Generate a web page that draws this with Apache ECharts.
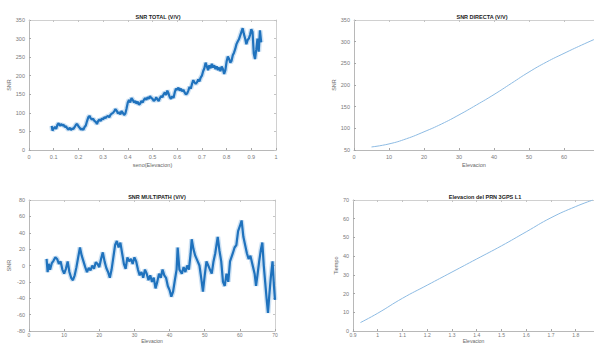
<!DOCTYPE html>
<html><head><meta charset="utf-8">
<script src="https://cdn.jsdelivr.net/npm/echarts@6/dist/echarts.min.js"></script>
<style>html,body{margin:0;padding:0;background:#fff}#c{width:594px;height:343px}</style>
</head><body><div id="c"></div>
<script>
// Titles and axis names
const titles = ['SNR TOTAL (V/V)', 'SNR DIRECTA (V/V)', 'SNR MULTIPATH (V/V)', 'Elevacion del PRN 3GPS L1'];
const xNames = ['seno(Elevacion)', 'Elevacion', 'Elevacion', 'Elevacion'];
const yNames = ['SNR', 'SNR', 'SNR', 'Tiempo'];

// SNR TOTAL vs seno(Elevacion)
const totalX = [0.092,0.095,0.10,0.105,0.11,0.115,0.12,0.125,0.13,0.135,0.14,0.145,0.15,0.155,0.16,0.165,0.17,0.175,0.18,0.185,0.19,0.195,0.20,0.205,0.21,0.215,0.22,0.225,0.23,0.235,0.24,0.245,0.25,0.255,0.26,0.265,0.27,0.275,0.28,0.285,0.29,0.295,0.30,0.305,0.31,0.315,0.32,0.325,0.33,0.335,0.34,0.345,0.35,0.355,0.36,0.365,0.37,0.375,0.38,0.385,0.39,0.395,0.40,0.405,0.41,0.415,0.42,0.425,0.43,0.435,0.44,0.445,0.45,0.455,0.46,0.465,0.47,0.475,0.48,0.485,0.49,0.495,0.50,0.505,0.51,0.515,0.52,0.525,0.53,0.535,0.54,0.545,0.55,0.555,0.56,0.565,0.57,0.575,0.58,0.585,0.59,0.595,0.60,0.605,0.61,0.615,0.62,0.625,0.63,0.635,0.64,0.645,0.65,0.655,0.66,0.665,0.67,0.675,0.68,0.685,0.69,0.695,0.70,0.705,0.71,0.715,0.72,0.725,0.73,0.735,0.74,0.745,0.75,0.755,0.76,0.765,0.77,0.775,0.78,0.785,0.79,0.795,0.80,0.805,0.81,0.815,0.82,0.825,0.83,0.835,0.84,0.845,0.85,0.855,0.86,0.865,0.87,0.875,0.88,0.885,0.89,0.895,0.90,0.905,0.91,0.915,0.92,0.925,0.93,0.935,0.94];
const totalY = [65,52,58,62,57,68,72,65,70,66,68,62,64,58,55,60,54,58,57,62,68,70,64,60,55,58,54,62,66,78,88,92,85,82,84,78,76,70,78,82,78,85,82,88,86,90,92,88,95,98,100,104,110,106,98,102,96,105,100,94,98,112,128,135,128,140,135,128,132,125,130,122,125,132,128,135,140,135,142,138,145,140,138,132,135,142,136,132,140,145,142,150,155,148,160,152,142,138,145,140,155,165,162,168,160,165,158,162,155,150,152,160,170,165,178,188,182,178,182,190,185,195,200,212,220,235,225,215,228,220,232,222,228,218,225,215,222,212,225,218,205,215,238,252,245,235,240,255,262,272,285,292,298,308,318,328,312,300,285,296,300,310,325,318,260,245,270,300,265,322,290];

// SNR DIRECTA vs Elevacion
const directX = [5,10,15,20,25,30,35,40,45,50,55,60,65,70];
const directY = [57,64,76,92,110,131,154,178,204,230,253,273,292,310];

// SNR MULTIPATH vs Elevacion
const multiX = [5,5.3,5.6,6,6.5,7,7.5,8,8.5,9,9.5,10,10.5,11,11.5,12,12.5,13,13.5,14,14.5,15,15.5,16,16.5,17,17.5,18,18.5,19,19.5,20,20.5,21,21.5,22,22.5,23,23.5,24,24.5,25,25.5,26,26.5,27,27.5,28,28.5,29,29.5,30,30.5,31,31.5,32,32.5,33,33.5,34,34.5,35,35.5,36,36.5,37,37.5,38,38.5,39,39.5,40,40.5,41,41.5,42,42.3,42.8,43.5,44,44.5,45,45.5,46,46.3,46.8,47.3,48,48.5,49,49.5,50,50.5,51,51.5,52,52.5,53,53.7,54.2,54.7,55.2,55.7,56.2,56.7,57.2,58,58.5,59,59.5,60,60.5,61,61.5,62,62.5,63,64.2,64.6,65,65.5,66,66.4,66.8,67.2,67.6,68,68.4,68.8,69.3,69.7,70];
const multiY = [8,-8,2,-5,3,6,10,8,2,5,-5,-10,-4,5,-8,-15,-18,-12,-2,10,22,12,5,-2,-8,-3,-6,0,-4,4,2,-2,8,16,5,-3,-8,-15,-5,10,25,30,22,28,15,2,-4,10,5,8,2,10,5,-5,-12,-8,-15,-5,-10,-18,-12,-20,-15,-28,-20,-10,-15,-5,-12,-15,-25,-30,-38,-32,-18,-5,22,-5,-10,-2,-8,0,-5,15,32,20,12,5,0,-15,-32,-12,5,0,-5,-10,5,15,35,18,5,-20,-25,-10,-20,5,15,22,25,42,48,55,35,25,15,8,12,-10,-25,-12,5,20,28,0,-20,-40,-58,-35,-15,5,-25,-42];

// Elevacion del PRN (Tiempo vs Elevacion)
const prnX = [0.93,1.0,1.1,1.2,1.3,1.4,1.5,1.6,1.7,1.8,1.87];
const prnY = [4.5,9.5,17.5,24.5,31.5,38.5,45.5,53,60.5,66.5,70];

// Axis ranges / tick steps (right-hand plots are cut off by the picture edge)
const xRanges = [[0,1,0.1],[0,68.57,10],[0,70,10],[0.9,1.874,0.1]];
const yRanges = [[0,350,50],[50,350,50],[-80,80,20],[0,70,10]];

const zip = (a,b) => a.map((v,i)=>[v,b[i]]);
const grids = [
  {left:29, top:20, width:247, height:130},
  {left:354, top:20, width:240, height:130},
  {left:29, top:200, width:246, height:131},
  {left:353, top:200, width:241, height:131}
].map(g => Object.assign({outerBoundsMode:'none', containLabel:false}, g));
const titlePos = [[153,9],[477,9],[152,189],[480,189]];
const xNameGap = [12, 12, 6, 6];
const xLabelMargin = [4, 4, 1.5, 1.5];
const xNameSize = [5.5, 5.5, 5, 5];
const fmt = v => String(Math.round(v*10)/10);
const labelStyle = {color:'#7a7a7a', fontSize:5.5, fontFamily:'Liberation Sans', margin:4, formatter: fmt};
const axCol = '#a6a6a6';
const nameStyle = {color:'#666', fontSize:5.5, fontFamily:'Liberation Sans'};
const xAxes = [], yAxes = [];
xRanges.forEach((r,i)=>{
  const clipped = (i===1 || i===3);
  xAxes.push({type:'value', gridIndex:i, min:r[0], max:r[1], interval:r[2],
    name:xNames[i], nameLocation:'middle', nameGap:xNameGap[i],
    nameTextStyle:Object.assign({}, nameStyle, {fontSize:xNameSize[i]}),
    axisLine:{onZero:false, lineStyle:{color:axCol, width:0.8}},
    axisTick:{inside:true, length:2, lineStyle:{color:axCol}},
    axisLabel:Object.assign({}, labelStyle, {showMaxLabel: !clipped, margin:xLabelMargin[i], fontSize: i>=2 ? 5 : 5.5}),
    splitLine:{show:false}});
  xAxes.push({type:'value', gridIndex:i, min:r[0], max:r[1], interval:r[2], position:'top',
    axisLine:{onZero:false, lineStyle:{color:'#c4c4c4', width:0.8}},
    axisTick:{inside:true, length:2, lineStyle:{color:'#c4c4c4'}},
    axisLabel:{show:false}, splitLine:{show:false}});
});
yRanges.forEach((r,i)=>{
  yAxes.push({type:'value', gridIndex:i, min:r[0], max:r[1], interval:r[2],
    name:yNames[i], nameLocation:'middle', nameGap:i===3?14:17, nameTextStyle:nameStyle,
    axisLine:{onZero:false, lineStyle:{color:axCol, width:0.8}},
    axisTick:{inside:true, length:2, lineStyle:{color:axCol}},
    axisLabel:labelStyle, splitLine:{show:false}});
  if (i===0 || i===2) {
    yAxes.push({type:'value', gridIndex:i, min:r[0], max:r[1], interval:r[2], position:'right',
      axisLine:{onZero:false, lineStyle:{color:'#c4c4c4', width:0.8}},
      axisTick:{inside:true, length:2, lineStyle:{color:'#c4c4c4'}},
      axisLabel:{show:false}, splitLine:{show:false}});
  }
});
// y axis index of the primary axis per grid
const yIdx = [0,2,3,5];
const noisy = (xi, yi, d) => [
  {type:'line', xAxisIndex:xi, yAxisIndex:yi, data:d, showSymbol:false, lineStyle:{color:'#5a9bd6', width:5, opacity:0.3}},
  {type:'line', xAxisIndex:xi, yAxisIndex:yi, data:d, showSymbol:false, lineStyle:{color:'#1f72bd', width:2.2}}
];
const chart = echarts.init(document.getElementById('c'), null, {renderer:'svg'});
chart.setOption({
  animation:false,
  backgroundColor:'#fff',
  title: titles.map((t,i)=>({text:t, left:titlePos[i][0], top:titlePos[i][1], textAlign:'center',
    textStyle:{fontSize:5.5, fontWeight:'bold', color:'#222', fontFamily:'Liberation Sans'}})),
  grid: grids,
  xAxis: xAxes,
  yAxis: yAxes,
  series: [].concat(
    noisy(0, yIdx[0], zip(totalX,totalY)),
    [{type:'line', xAxisIndex:2, yAxisIndex:yIdx[1], data:zip(directX,directY), showSymbol:false, smooth:true, lineStyle:{color:'#8dbbe3', width:1}}],
    noisy(4, yIdx[2], zip(multiX,multiY)),
    [{type:'line', xAxisIndex:6, yAxisIndex:yIdx[3], data:zip(prnX,prnY), showSymbol:false, smooth:true, lineStyle:{color:'#8dbbe3', width:1}}]
  )
});
</script></body></html>
